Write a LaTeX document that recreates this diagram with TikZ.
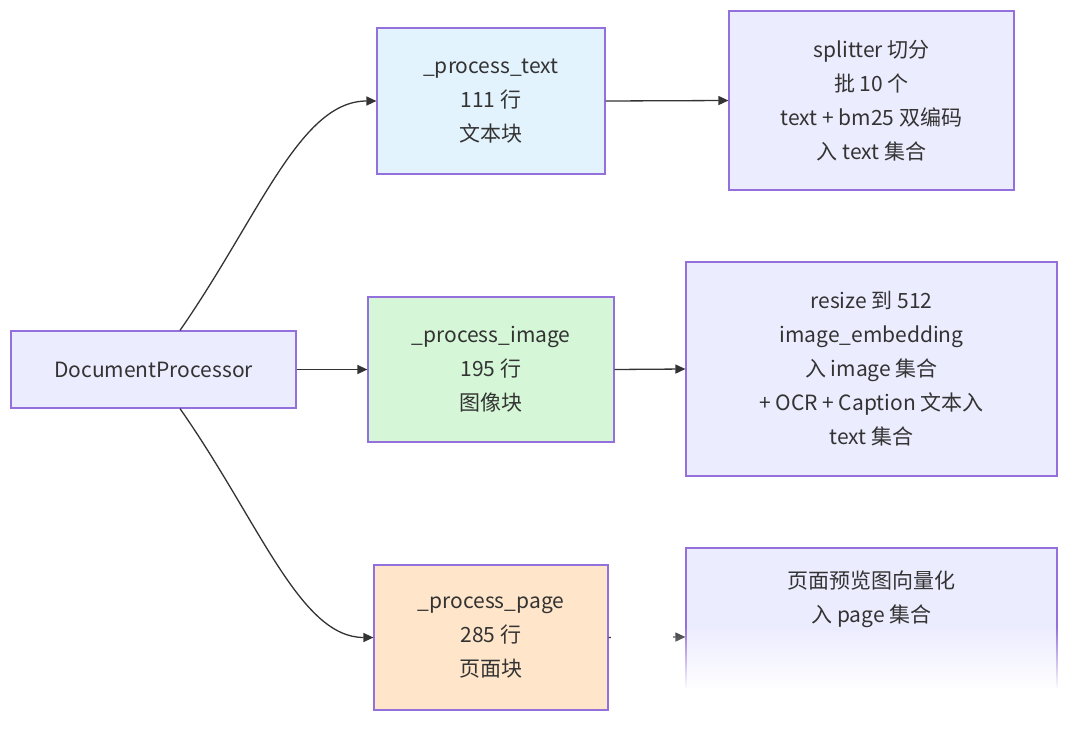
\documentclass[tikz,border=0pt]{standalone}
\usepackage{fontspec}
\setmainfont{Noto Sans CJK SC}
\usetikzlibrary{arrows.meta,fadings}
\definecolor{boxstroke}{HTML}{9370DB}
\definecolor{dpfill}{HTML}{ECECFF}
\definecolor{textfill}{HTML}{E3F3FD}
\definecolor{imagefill}{HTML}{D5F7D7}
\definecolor{pagefill}{HTML}{FFE5C9}
\definecolor{ink}{HTML}{333333}
\tikzfading[name=fadedown, top color=transparent!100, bottom color=transparent!0]
\tikzset{
  box/.style={draw=boxstroke, line width=1.2pt, inner sep=0pt, align=center,
    text=ink, font=\fontsize{21}{34}\selectfont},
  arr/.style={draw=ink, line width=1.3pt, -{Triangle[length=10pt,width=9pt]}}
}
\begin{document}
\begin{tikzpicture}[x=1pt,y=-1pt]
\useasboundingbox[fill=white] (0,0) rectangle (1080,747);
\node[box, fill=dpfill, minimum width=285pt, minimum height=77pt] (dp) at (153.5,369.5) {DocumentProcessor};
\node[box, fill=textfill, minimum width=228pt, minimum height=146pt] (ptext) at (491,101) {\_process\_text\\111 行\\文本块};
\node[box, fill=imagefill, minimum width=246pt, minimum height=145pt] (pimage) at (491,369.5) {\_process\_image\\195 行\\图像块};
\node[box, fill=pagefill, minimum width=234pt, minimum height=145pt] (ppage) at (491,637.5) {\_process\_page\\285 行\\页面块};
\node[box, fill=dpfill, minimum width=285pt, minimum height=179pt] (dtext) at (871.5,100.5) {splitter 切分\\批 10 个\\text + bm25 双编码\\入 text 集合};
\node[box, fill=dpfill, minimum width=371pt, minimum height=214pt] (dimage) at (871.5,369) {resize 到 512\\image\_embedding\\入 image 集合\\+ OCR + Caption 文本入\\text 集合};
\node[box, fill=dpfill, minimum width=371pt, minimum height=178pt] (dpage) at (871.5,637) {};
\node[text=ink, font=\fontsize{21}{34}\selectfont, align=center, anchor=north] (dpagetxt) at (871.5,567) {页面预览图向量化\\入 page 集合};
\draw[arr] ([xshift=26.5pt]dp.north) .. controls (260,215) and (300,101) .. (ptext.west);
\draw[arr] ([xshift=26.5pt]dp.south) .. controls (260,523) and (300,637.5) .. (ppage.west);
\draw[arr] (dp.east) -- (pimage.west);
\draw[arr] (ptext.east) -- (dtext.west);
\draw[arr] (pimage.east) -- (dimage.west);
\draw[arr] (ppage.east) -- (dpage.west);
% white fade overlay at the bottom right, as in the reference
\fill[white, path fading=fadedown] (611,626) rectangle (1080,690);
\fill[white] (611,689) rectangle (1080,747);
\fill[white] (611,624) rectangle (673,690);
\end{tikzpicture}
\end{document}
